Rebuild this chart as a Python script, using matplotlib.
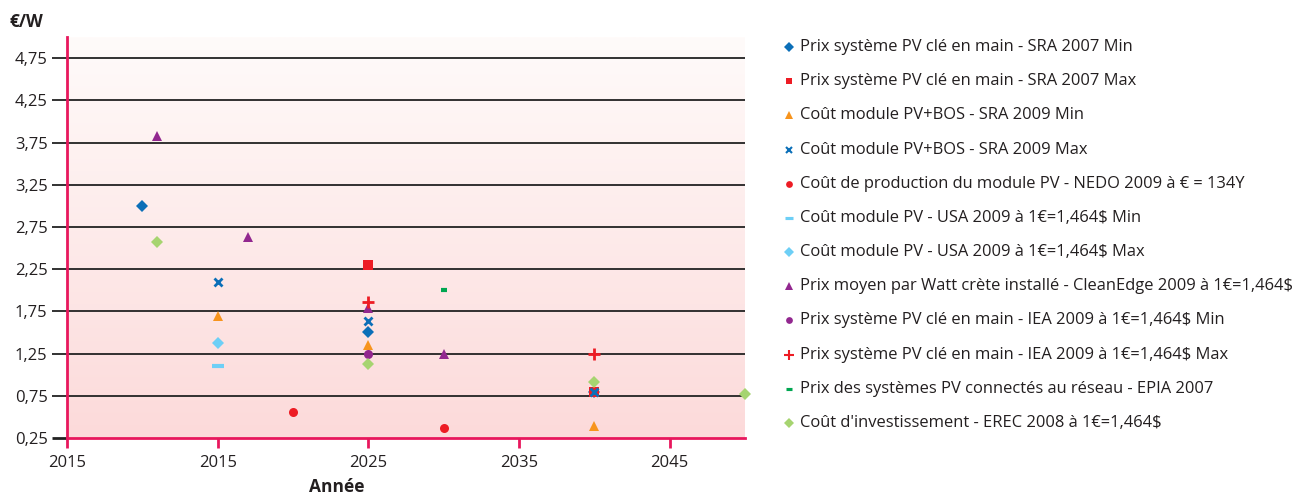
import numpy as np
import matplotlib
matplotlib.use("Agg")
import matplotlib.pyplot as plt
from matplotlib.lines import Line2D
from matplotlib.colors import LinearSegmentedColormap

plt.rcParams['font.family'] = ['Open Sans', 'DejaVu Sans']

# ---- data ----
labels = [
    "Prix système PV clé en main - SRA 2007 Min",
    "Prix système PV clé en main - SRA 2007 Max",
    "Coût module PV+BOS - SRA 2009 Min",
    "Coût module PV+BOS - SRA 2009 Max",
    "Coût de production du module PV - NEDO 2009 à € = 134Y",
    "Coût module PV - USA 2009 à 1€=1,464$ Min",
    "Coût module PV - USA 2009 à 1€=1,464$ Max",
    "Prix moyen par Watt crète installé - CleanEdge 2009 à 1€=1,464$",
    "Prix système PV clé en main - IEA 2009 à 1€=1,464$ Min",
    "Prix système PV clé en main - IEA 2009 à 1€=1,464$ Max",
    "Prix des systèmes PV connectés au réseau - EPIA 2007",
    "Coût d'investissement - EREC 2008 à 1€=1,464$",
]
sra07_min_x = [2010, 2025, 2040]
sra07_min_y = [3.00, 1.51, 0.80]
sra07_max_x = [2025, 2040]
sra07_max_y = [2.30, 0.80]
sra09_min_x = [2015, 2025, 2040]
sra09_min_y = [1.70, 1.35, 0.39]
sra09_max_x = [2015, 2025, 2040]
sra09_max_y = [2.10, 1.64, 0.80]
nedo_x = [2020, 2030]
nedo_y = [0.56, 0.37]
usa_min_x = [2015]
usa_min_y = [1.10]
usa_max_x = [2015]
usa_max_y = [1.37]
cleanedge_x = [2011, 2017, 2025, 2030]
cleanedge_y = [3.83, 2.63, 1.79, 1.24]
iea_min_x = [2025]
iea_min_y = [1.25]
iea_max_x = [2025, 2040]
iea_max_y = [1.86, 1.24]
epia_x = [2030]
epia_y = [2.00]
erec_x = [2011, 2025, 2040, 2050]
erec_y = [2.57, 1.13, 0.91, 0.77]

xticks = [2005, 2015, 2025, 2035, 2045]
xticklabels = ["2015", "2015", "2025", "2035", "2045"]
yticks = [0.25, 0.75, 1.25, 1.75, 2.25, 2.75, 3.25, 3.75, 4.25, 4.75]
yticklabels = ["0,25", "0,75", "1,25", "1,75", "2,25", "2,75", "3,25", "3,75", "4,25", "4,75"]

series_x = [sra07_min_x, sra07_max_x, sra09_min_x, sra09_max_x, nedo_x, usa_min_x,
            usa_max_x, cleanedge_x, iea_min_x, iea_max_x, epia_x, erec_x]
series_y = [sra07_min_y, sra07_max_y, sra09_min_y, sra09_max_y, nedo_y, usa_min_y,
            usa_max_y, cleanedge_y, iea_min_y, iea_max_y, epia_y, erec_y]

# ---- styles ----
styles = [
    dict(marker='D', color='#0B6FB8', ms=6.3, mew=0),
    dict(marker='s', color='#ED1C24', ms=6.5, mew=0),
    dict(marker='^', color='#F7941D', ms=7, mew=0),
    dict(marker='x', color='#0B6FB8', ms=6, mew=2),
    dict(marker='o', color='#ED1C24', ms=6.5, mew=0),
    dict(marker='_', color='#6DCFF6', ms=8.5, mew=3),
    dict(marker='D', color='#6DCFF6', ms=6.3, mew=0),
    dict(marker='^', color='#92278F', ms=7, mew=0),
    dict(marker='o', color='#92278F', ms=6.5, mew=0),
    dict(marker='+', color='#ED1C24', ms=9, mew=2),
    dict(marker='_', color='#00A651', ms=5, mew=3),
    dict(marker='D', color='#A6D470', ms=6.3, mew=0),
]

pink = '#E8175D'
txt = '#231F20'
W, H = 1301, 495
fig = plt.figure(figsize=(W / 100, H / 100), dpi=100)
ax = fig.add_axes([67 / W, 1 - 438 / H, (745 - 67) / W, (438 - 37) / H])

# gradient background (light at top, pink at bottom)
grad = np.linspace(0, 1, 256).reshape(-1, 1)
cmap = LinearSegmentedColormap.from_list('bg', ['#FCDADA', '#FFFBFA'])
ax.imshow(grad, aspect='auto', cmap=cmap, extent=[2005, 2050, 0.25, 5.0],
          origin='lower', zorder=0)
ax.set_xlim(2005, 2050)
ax.set_ylim(0.25, 5.0)

for y in yticks[1:]:
    ax.axhline(y, color='#222222', lw=1.3, zorder=1)

for xs, ys, st in zip(series_x, series_y, styles):
    ax.plot(xs, ys, linestyle='none', marker=st['marker'], color=st['color'],
            markersize=st['ms'], markeredgewidth=st['mew'], zorder=3, clip_on=False)

for s in ['top', 'right']:
    ax.spines[s].set_visible(False)
for s in ['left', 'bottom']:
    ax.spines[s].set_color(pink)
    ax.spines[s].set_linewidth(2)

ax.set_xticks(xticks)
ax.set_xticklabels(xticklabels, fontsize=12, color=txt)
ax.set_yticks(yticks)
ax.set_yticklabels(yticklabels, fontsize=12, color=txt)
ax.tick_params(axis='x', direction='out', length=7, width=2, color=pink, pad=5)
ax.tick_params(axis='y', direction='out', length=11, width=1.3, color='#222222', pad=3)
ax.yaxis.get_major_ticks()[0].tick1line.set_color(pink)
ax.yaxis.get_major_ticks()[0].tick1line.set_markeredgewidth(2)

fig.text(10 / W, 1 - 22 / H, "€/W", fontsize=12.5, fontweight='bold', va='center', ha='left',
         color=txt)
fig.text(337 / W, 1 - 487 / H, "Année", fontsize=12.5, fontweight='bold', va='center',
         ha='center', color=txt)

# legend (manual)
y0, y1 = 47, 423
n = len(labels)
for i, (lab, st) in enumerate(zip(labels, styles)):
    yp = y0 + (y1 - y0) * i / (n - 1)
    yf = 1 - yp / H
    ms = st['ms'] * 0.75
    fig.add_artist(Line2D([789 / W], [yf], marker=st['marker'], color=st['color'],
                          markersize=ms, markeredgewidth=st['mew'] * 0.75,
                          linestyle='none', transform=fig.transFigure))
    fig.text(800 / W, yf, lab, fontsize=11.9, va='center', ha='left', color=txt)

fig.savefig('out.png', dpi=100)
